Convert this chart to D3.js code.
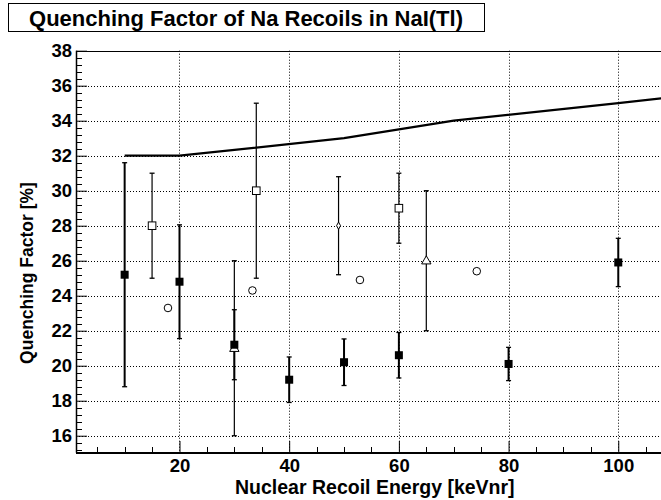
<!DOCTYPE html>
<html>
<head>
<meta charset="utf-8">
<script src="https://cdn.jsdelivr.net/npm/d3@7"></script>
<style>
    body { margin: 0; background: #fff; }
    svg { display: block; font-family: "Liberation Sans", Arial, sans-serif; font-weight: bold; }
</style>
</head>
<body>
<svg id="quenching" width="661" height="500"></svg>
<script>
// filled squares
var filledEnergy = [10, 20, 30, 40, 50, 60, 80, 100];
var filledQf = [25.2, 24.8, 21.2, 19.2, 20.2, 20.6, 20.1, 25.9];
var filledErr = [6.4, 3.25, 2.0, 1.3, 1.33, 1.3, 0.95, 1.38];

// open squares
var openSqEnergy = [15, 34, 60];
var openSqQf = [28, 30, 29];
var openSqErr = [3, 5, 2];

// open circles (no error bars)
var circleEnergy = [17.9, 33.3, 52.9, 74.2];
var circleQf = [23.3, 24.3, 24.9, 25.4];

// open triangles
var triEnergy = [30, 65];
var triQf = [21, 26];
var triErr = [5, 4];

// open diamond
var diaEnergy = [49];
var diaQf = [28];
var diaErr = [2.8];

// solid curve
var curveEnergy = [10, 20, 50, 70, 100, 110];
var curveQf = [32, 32, 33, 34, 35, 35.35];

var xTicks = [20, 40, 60, 80, 100];
var yTicks = [16, 18, 20, 22, 24, 26, 28, 30, 32, 34, 36, 38];

(function () {
    'use strict';

    var vm = {};

    createSvg();
    setUpScales();
    drawGrid();
    drawAxes();
    drawCurve();
    drawPoints();
    drawTitle();

    function createSvg() {
        vm.svg = d3.select("svg#quenching");
        vm.left = 76;
        vm.right = 686;   // frame runs past the window edge
        vm.top = 50.7;
        vm.bottom = 452.7;
        vm.svg.append("clipPath").attr("id", "plotClip")
            .append("rect")
            .attr("x", vm.left).attr("y", vm.top)
            .attr("width", vm.right - vm.left).attr("height", vm.bottom - vm.top);
    }

    function setUpScales() {
        vm.x = d3.scaleLinear().domain([1.13, 112.35]).range([vm.left, vm.right]);
        vm.y = d3.scaleLinear().domain([15.03, 38]).range([vm.bottom, vm.top]);
    }

    function drawGrid() {
        var g = vm.svg.append("g").attr("class", "grid")
            .attr("stroke", "#000").attr("stroke-width", 1)
            .attr("stroke-dasharray", "1,2");

        g.selectAll(".gx").data(xTicks).enter().append("line")
            .attr("x1", function (d) { return Math.round(vm.x(d)) + 0.5; })
            .attr("x2", function (d) { return Math.round(vm.x(d)) + 0.5; })
            .attr("y1", vm.top).attr("y2", vm.bottom);

        g.selectAll(".gy").data(yTicks).enter().append("line")
            .attr("y1", function (d) { return Math.round(vm.y(d)) + 0.5; })
            .attr("y2", function (d) { return Math.round(vm.y(d)) + 0.5; })
            .attr("x1", vm.left).attr("x2", vm.right);
    }

    function drawAxes() {
        var xMinor = d3.range(5, 115, 5).filter(function (d) { return d % 20 !== 0; });
        var yMinor = d3.range(15.2, 38, 0.4).filter(function (d) {
            return Math.abs(d / 2 - Math.round(d / 2)) > 0.01;
        });

        // frame
        vm.svg.append("rect")
            .attr("x", vm.left + 0.5).attr("y", Math.round(vm.top) + 0.5)
            .attr("width", vm.right - vm.left).attr("height", Math.round(vm.bottom) - Math.round(vm.top))
            .attr("fill", "none").attr("stroke", "#000").attr("stroke-width", 1);

        var xAxis = vm.svg.append("g")
            .attr("class", "axis axis--x")
            .attr("transform", "translate(0," + Math.round(vm.bottom) + ")")
            .call(d3.axisBottom(vm.x).tickValues(xTicks).tickSize(-12).tickFormat(d3.format("d")));

        xAxis.append("g").selectAll("line").data(xMinor).enter().append("line")
            .attr("x1", function (d) { return Math.round(vm.x(d)) + 0.5; })
            .attr("x2", function (d) { return Math.round(vm.x(d)) + 0.5; })
            .attr("y1", 0).attr("y2", -6)
            .attr("stroke", "#000");

        var yAxis = vm.svg.append("g")
            .attr("class", "axis axis--y")
            .attr("transform", "translate(" + vm.left + ",0)")
            .call(d3.axisLeft(vm.y).tickValues(yTicks).tickSize(-11).tickPadding(4).tickFormat(d3.format("d")));

        yAxis.append("g").selectAll("line").data(yMinor).enter().append("line")
            .attr("y1", function (d) { return Math.round(vm.y(d)) + 0.5; })
            .attr("y2", function (d) { return Math.round(vm.y(d)) + 0.5; })
            .attr("x1", 0).attr("x2", 6)
            .attr("stroke", "#000");

        vm.svg.selectAll(".axis .domain").remove();
        vm.svg.selectAll(".axis line").attr("stroke", "#000").attr("stroke-width", 1);
        vm.svg.selectAll(".axis text")
            .attr("fill", "#000")
            .style("font-size", "18.5px")
            .style("font-weight", "bold");
        xAxis.selectAll(".tick text").attr("y", 19).attr("dy", null);

        // heavier axis lines
        vm.svg.append("line")
            .attr("x1", vm.left).attr("x2", vm.right)
            .attr("y1", Math.round(vm.bottom)).attr("y2", Math.round(vm.bottom))
            .attr("stroke", "#000").attr("stroke-width", 2);
        vm.svg.append("line")
            .attr("x1", vm.left + 0.5).attr("x2", vm.left + 0.5)
            .attr("y1", vm.top).attr("y2", vm.bottom)
            .attr("stroke", "#000").attr("stroke-width", 1.5);

        vm.svg.append("text")
            .attr("x", 235).attr("y", 494)
            .style("font-size", "19.5px")
            .text("Nuclear Recoil Energy [keVnr]");

        vm.svg.append("text")
            .attr("transform", "translate(33,273) rotate(-90)")
            .attr("text-anchor", "middle")
            .style("font-size", "17.5px")
            .text("Quenching Factor [%]");
    }

    function drawCurve() {
        var line = d3.line()
            .x(function (d, i) { return vm.x(curveEnergy[i]); })
            .y(function (d) { return vm.y(d); });

        vm.svg.append("path")
            .datum(curveQf)
            .attr("clip-path", "url(#plotClip)")
            .attr("d", line)
            .attr("fill", "none")
            .attr("stroke", "#000")
            .attr("stroke-width", 2.2);
    }

    function errorBars(g, energy, qf, err, width) {
        var rows = energy.map(function (e, i) { return {e: e, q: qf[i], s: err[i]}; });
        var bars = g.append("g").attr("stroke", "#000").attr("stroke-width", width);
        bars.selectAll(".bar").data(rows).enter().append("line")
            .attr("x1", function (d) { return vm.x(d.e); })
            .attr("x2", function (d) { return vm.x(d.e); })
            .attr("y1", function (d) { return vm.y(d.q - d.s); })
            .attr("y2", function (d) { return vm.y(d.q + d.s); });
        [-1, 1].forEach(function (sign) {
            bars.selectAll(".cap" + sign).data(rows).enter().append("line")
                .attr("x1", function (d) { return vm.x(d.e) - 2.5; })
                .attr("x2", function (d) { return vm.x(d.e) + 2.5; })
                .attr("y1", function (d) { return vm.y(d.q + sign * d.s); })
                .attr("y2", function (d) { return vm.y(d.q + sign * d.s); })
                .attr("stroke-width", 1.3);
        });
    }

    function drawPoints() {
        var g = vm.svg.append("g").attr("class", "points");

        errorBars(g, triEnergy, triQf, triErr, 1.2);
        errorBars(g, diaEnergy, diaQf, diaErr, 1.2);
        errorBars(g, openSqEnergy, openSqQf, openSqErr, 1.2);
        errorBars(g, filledEnergy, filledQf, filledErr, 2);

        g.selectAll(".tri").data(triQf).enter().append("path")
            .attr("d", d3.symbol().type(d3.symbolTriangle).size(38))
            .attr("transform", function (d, i) {
                return "translate(" + vm.x(triEnergy[i]) + "," + (vm.y(d) + 0.5) + ")";
            })
            .attr("fill", "#fff").attr("stroke", "#000").attr("stroke-width", 1);

        g.selectAll(".dia").data(diaQf).enter().append("path")
            .attr("d", "M0,-3.6L2,0L0,3.6L-2,0Z")
            .attr("transform", function (d, i) {
                return "translate(" + vm.x(diaEnergy[i]) + "," + vm.y(d) + ")";
            })
            .attr("fill", "#fff").attr("stroke", "#000").attr("stroke-width", 1);

        g.selectAll(".osq").data(openSqQf).enter().append("rect")
            .attr("x", function (d, i) { return vm.x(openSqEnergy[i]) - 3.8; })
            .attr("y", function (d) { return vm.y(d) - 3.8; })
            .attr("width", 7.6).attr("height", 7.6)
            .attr("fill", "#fff").attr("stroke", "#000").attr("stroke-width", 1);

        g.selectAll(".circ").data(circleQf).enter().append("circle")
            .attr("cx", function (d, i) { return vm.x(circleEnergy[i]); })
            .attr("cy", function (d) { return vm.y(d); })
            .attr("r", 3.8)
            .attr("fill", "#fff").attr("stroke", "#000").attr("stroke-width", 1);

        g.selectAll(".fsq").data(filledQf).enter().append("rect")
            .attr("x", function (d, i) { return vm.x(filledEnergy[i]) - 4; })
            .attr("y", function (d) { return vm.y(d) - 4; })
            .attr("width", 8).attr("height", 8)
            .attr("fill", "#000");
    }

    function drawTitle() {
        vm.svg.append("rect")
            .attr("x", 8.5).attr("y", 3.5)
            .attr("width", 476).attr("height", 28)
            .attr("fill", "#fff").attr("stroke", "#000").attr("stroke-width", 1);

        vm.svg.append("text")
            .attr("x", 246).attr("y", 26)
            .attr("text-anchor", "middle")
            .style("font-size", "22px")
            .text("Quenching Factor of Na Recoils in NaI(Tl)");
    }
})();
</script>
</body>
</html>
